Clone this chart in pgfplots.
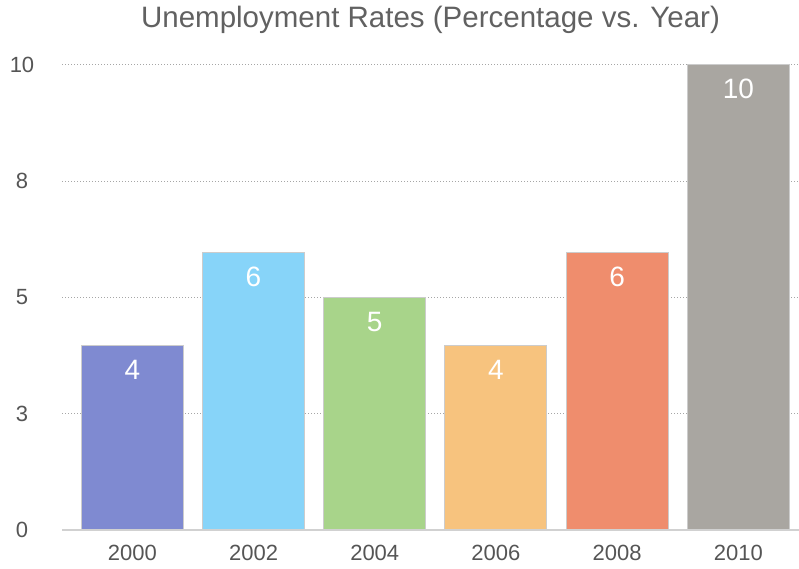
\documentclass[border=0pt]{standalone}
\usepackage{pgfplots}
\pgfplotsset{compat=1.18}
\usepackage{fontspec}
\setmainfont{Liberation Sans}

\definecolor{bA}{HTML}{7F8AD1}
\definecolor{bB}{HTML}{87D4F9}
\definecolor{bC}{HTML}{A8D48A}
\definecolor{bD}{HTML}{F7C37E}
\definecolor{bE}{HTML}{EF8D6D}
\definecolor{bF}{HTML}{A9A6A1}
\definecolor{txt}{HTML}{555555}

\begin{document}
\begin{tikzpicture}
\begin{axis}[
    at={(0,0)}, anchor=south west,
    scale only axis,
    width=737pt, height=465pt,
    xmin=-0.58, xmax=5.5,
    ymin=0, ymax=10,
    axis line style={draw=none},
    major tick length=0pt,
    xtick={0,1,2,3,4,5},
    xticklabels={2000,2002,2004,2006,2008,2010},
    ytick={0,2.5,5,7.5,10},
    yticklabels={0,3,5,8,10},
    ymajorgrids,
    grid style={black!35, line width=1pt, dotted},
    tick label style={font=\fontsize{22}{24}\selectfont, text=txt},
    /pgf/number format/assume math mode=true,
    yticklabel style={anchor=center, xshift=-40pt},
    xticklabel style={anchor=center, yshift=-23pt},
    title={Unemployment Rates (Percentage vs. Year)},
    title style={at={(0.5,1)}, anchor=center, yshift=39pt,
        font=\fontsize{29.5}{32}\selectfont, text=black!62},
    ybar, bar width=102pt,
    every axis plot/.append style={bar shift=0pt, draw=black!20, line width=1pt},
    nodes near coords,
    nodes near coords style={anchor=center, yshift=-24pt, text=white,
        font=\fontsize{28}{30}\selectfont,
        /pgf/number format/fixed, /pgf/number format/precision=0},
    clip=false,
]
\addplot[fill=bA] coordinates {(0,3.96)};
\addplot[fill=bB] coordinates {(1,5.96)};
\addplot[fill=bC] coordinates {(2,4.99)};
\addplot[fill=bD] coordinates {(3,3.96)};
\addplot[fill=bE] coordinates {(4,5.96)};
\addplot[fill=bF] coordinates {(5,10)};
\draw[black!18, line width=2.5pt] (axis cs:-0.58,0) -- (axis cs:5.5,0);
\end{axis}
\pgfresetboundingbox
\path (-62pt,-39pt) rectangle (737pt,530pt);
\end{tikzpicture}
\end{document}
